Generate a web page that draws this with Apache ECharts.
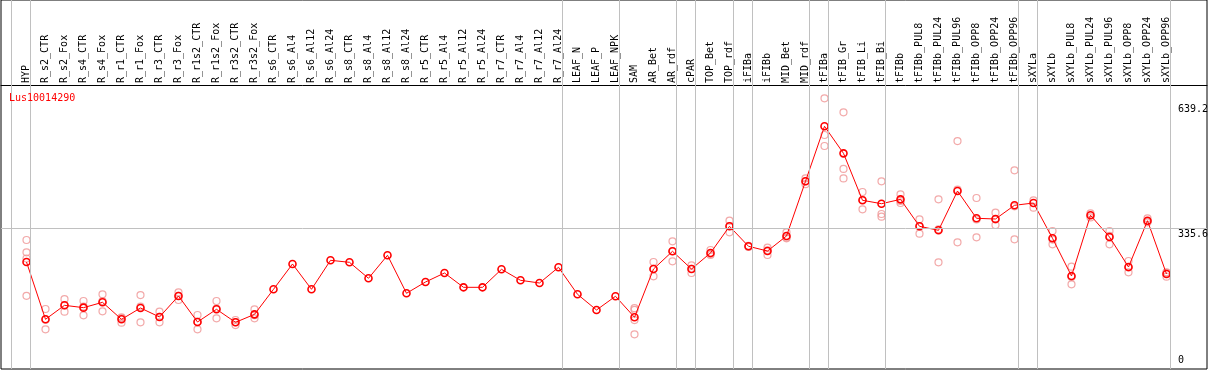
<!DOCTYPE html>
<html>
<head>
<meta charset="utf-8">
<script src="https://cdn.jsdelivr.net/npm/echarts@6/dist/echarts.min.js"></script>
<style>
  html, body { margin: 0; padding: 0; background: #fff; }
  #chart { width: 1209px; height: 370px; }
</style>
</head>
<body>
<div id="chart"></div>
<script>
const geneName = 'Lus10014290';

const categories = ['HYP','R_s2_CTR','R_s2_Fox','R_s4_CTR','R_s4_Fox','R_r1_CTR','R_r1_Fox','R_r3_CTR','R_r3_Fox','R_r1s2_CTR','R_r1s2_Fox','R_r3s2_CTR','R_r3s2_Fox','R_s6_CTR','R_s6_Al4','R_s6_Al12','R_s6_Al24','R_s8_CTR','R_s8_Al4','R_s8_Al12','R_s8_Al24','R_r5_CTR','R_r5_Al4','R_r5_Al12','R_r5_Al24','R_r7_CTR','R_r7_Al4','R_r7_Al12','R_r7_Al24','LEAF_N','LEAF_P','LEAF_NPK','SAM','AR_Bet','AR_rdf','cPAR','TOP_Bet','TOP_rdf','iFIBa','iFIBb','MID_Bet','MID_rdf','tFIBa','tFIB_Gr','tFIB_Li','tFIB_Bi','tFIBb','tFIBb_PUL8','tFIBb_PUL24','tFIBb_PUL96','tFIBb_OPP8','tFIBb_OPP24','tFIBb_OPP96','sXYLa','sXYLb','sXYLb_PUL8','sXYLb_PUL24','sXYLb_PUL96','sXYLb_OPP8','sXYLb_OPP24','sXYLb_OPP96'];

const means = [253.5,113.9,148,142.3,155.3,113.9,141.5,119.6,170.7,107.4,138.3,106.6,126,187,248.6,187,257.6,252.7,213.8,269.8,177.3,204.8,226.7,191.8,191.8,235.7,208.9,202.3,240.6,174.8,136.6,170,118.8,236.4,279.5,236.4,275.4,340.4,291.7,280.2,316.8,450,583.9,518,403.7,395.4,406,340.4,330.6,426.3,359.9,358.2,391.5,397.1,311.2,219.4,367.2,314.3,241.3,354,224.3];

const replicates = [
  [307,277,262,171],[139,113,89.5],[163,148,132.5],[158.5,145,123.6],[174.8,158,133.4],
  [118.8,117,105.7],[173,145,106.6],[132.5,120,106.6],[179.7,171,161],[124.4,108,89.5],
  [158.5,140,116.4],[112.2,107,100],[138.3,124,116.4],
  [],[],[],[],[],[],[],[],[],[],[],[],[],[],[],[],[],[],[],
  [141,137,112,77.4],[253.5,237,218.6],[303.9,280,255.2],[245.4,237,226.7],[282.7,273,270.5],
  [354,341,325.8],[293,290],[288.3,282,270.5],[325.8,313,311.2],[457.3,450,443],
  [652,562.7,535.9],[618,480,457],[423.9,405,381.8],[450,370.3,363.8],[418.3,402,397.1],
  [357.4,341,322.4],[406,333,252.7],[548,429.5,301.4],[409.3,357,313.6],[373.5,357,343.6],
  [476.7,389,308.7],[403.7,385.7],[329,308,296.6],[242,217,199.2],[372,362],
  [329,317,296.6],[255.9,240,228.4],[359.9,352,350.1],[228.4,227,217.7]
];

// index of the last category of each group (group separators drawn after them)
const groupEnds = [-1, 0, 28, 31, 34, 35, 37, 38, 41, 42, 45, 52, 53, 60];
const yTicks = [0, 335.6, 639.2];

const STEP = 19;                 // px per category
const X_MIN = -25.5 / STEP;
const X_MAX = X_MIN + 1206 / STEP;
const Y_MIN = -7.06, Y_MAX = 891.4;
const SEP_OFF = 4 / STEP;
const MONO = 'DejaVu Sans Mono';

const repData = [];
replicates.forEach((arr, i) => arr.forEach(v => repData.push([i, v])));

const markLines = groupEnds.map(g => ({ xAxis: g + SEP_OFF }));
yTicks.forEach((v, i) => {
  const inner = i > 0 && i < yTicks.length - 1;
  markLines.push({
    yAxis: v,
    lineStyle: { color: inner ? '#c0c0c0' : 'rgba(0,0,0,0)' },
    label: {
      show: true,
      formatter: String(v),
      position: i === 0 ? 'insideEndTop' : 'insideEndBottom',
      distance: [29, 1],
      align: 'left',
      fontFamily: MONO, fontSize: 10, color: '#000'
    }
  });
});

const chart = echarts.init(document.getElementById('chart'), null, { renderer: 'canvas' });
chart.setOption({
  animation: false,
  backgroundColor: '#fff',
  title: {
    text: geneName, left: 9, top: 93, padding: 0,
    textStyle: { fontFamily: MONO, fontSize: 10, fontWeight: 'normal', color: '#ff0000' }
  },
  grid: { left: 1, right: 2, top: 0, bottom: 1, show: true, borderColor: '#000', borderWidth: 1, backgroundColor: '#fff' },
  xAxis: [
    { type: 'value', min: X_MIN, max: X_MAX, show: false },
    {
      type: 'value', min: X_MIN, max: X_MAX, position: 'top', offset: -85,
      axisLine: { show: true, onZero: false, lineStyle: { color: '#000', width: 1 } },
      axisTick: { show: false }, splitLine: { show: false },
      axisLabel: {
        customValues: categories.map((c, i) => i),
        formatter: v => categories[Math.round(v)],
        rotate: -90, margin: 2, fontFamily: MONO, fontSize: 10, color: '#000',
        showMinLabel: true, showMaxLabel: true, hideOverlap: false
      }
    }
  ],
  yAxis: { type: 'value', min: Y_MIN, max: Y_MAX, show: false },
  series: [
    {
      type: 'scatter', data: [], z: 1, silent: true,
      markLine: {
        silent: true, symbol: 'none', animation: false,
        lineStyle: { color: '#c0c0c0', width: 1, type: 'solid' },
        label: { show: false },
        data: markLines
      }
    },
    {
      type: 'scatter', data: repData, z: 2, silent: true,
      symbol: 'circle', symbolSize: 7,
      itemStyle: { color: 'rgba(0,0,0,0)', borderColor: '#ef9494', borderWidth: 1.2 }
    },
    {
      type: 'line', data: means.map((v, i) => [i, v]), z: 3, silent: true,
      lineStyle: { color: '#ff0000', width: 1 },
      symbol: 'circle', symbolSize: 7, showAllSymbol: true,
      itemStyle: { color: 'rgba(0,0,0,0)', borderColor: '#ff0000', borderWidth: 1.6 }
    }
  ]
});
</script>
</body>
</html>
